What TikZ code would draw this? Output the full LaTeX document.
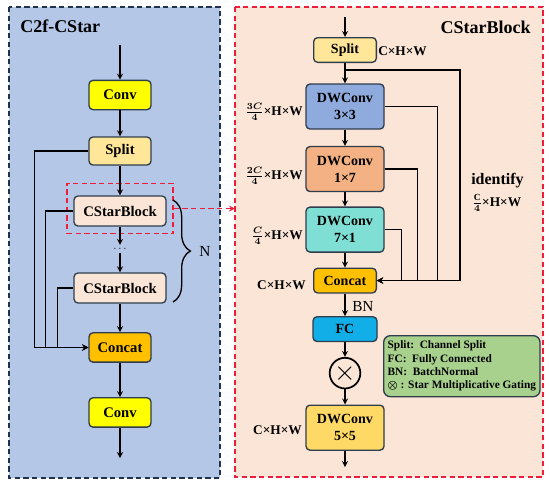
\documentclass[tikz,border=0pt]{standalone}
\usepackage{fontspec}
\setmainfont{Liberation Serif}
\usetikzlibrary{positioning,decorations.pathreplacing}

\definecolor{edgecol}{HTML}{2F3D4C}
\definecolor{leftbg}{HTML}{B4C7E7}
\definecolor{rightbg}{HTML}{FBE5D6}
\definecolor{navyline}{HTML}{1F3350}
\definecolor{redline}{HTML}{EE1D3A}
\definecolor{convcol}{HTML}{FFFF00}
\definecolor{splitcol}{HTML}{FFE699}
\definecolor{blockcol}{HTML}{FBE5D6}
\definecolor{concatcol}{HTML}{FFC000}
\definecolor{dwacol}{HTML}{8FAADC}
\definecolor{dwbcol}{HTML}{F4B183}
\definecolor{dwccol}{HTML}{7FDFD4}
\definecolor{fccol}{HTML}{12AEE8}
\definecolor{dwdcol}{HTML}{FFD966}
\definecolor{legendcol}{HTML}{A9D18E}

\begin{document}
\begin{tikzpicture}[
    x=0.75pt, y=-0.75pt,
    box/.style={rectangle, draw=edgecol, line width=1pt, rounded corners=3pt, align=center, inner sep=2pt, font=\fontsize{11}{13}\selectfont\bfseries},
    lbox/.style={box, minimum width=46.5pt, minimum height=22pt},
    wbox/.style={box, minimum width=69pt, minimum height=22.5pt},
    rbox/.style={box, minimum width=47pt, minimum height=18.5pt, font=\fontsize{10.5}{12.5}\selectfont\bfseries},
    dwbox/.style={box, minimum width=58.5pt, minimum height=33.75pt, font=\fontsize{10.5}{12.5}\selectfont\bfseries},
    dim/.style={inner sep=0pt, font=\fontsize{10}{12}\selectfont\bfseries},
    arrow/.style={line width=1pt,->,>=stealth},
    line/.style={line width=1pt}
]
\useasboundingbox (0,0) rectangle (550,486);

% panels
\draw[draw=navyline, fill=leftbg, line width=0.9pt, dash pattern=on 4pt off 2.5pt] (9,7) rectangle (220,478);
\draw[draw=redline, fill=rightbg, line width=0.9pt, dash pattern=on 4pt off 2.5pt] (235,7) rectangle (543,477);
\node (ltitle) [anchor=west, inner sep=0pt, font=\fontsize{13.5}{15}\selectfont\bfseries] at (20,26) {C2f-CStar};
\node (rtitle) [anchor=east, inner sep=0pt, font=\fontsize{13.5}{15}\selectfont\bfseries] at (531,27) {CStarBlock};

% C2f-CStar
\coordinate (lin) at (120,45);
\node (conv1) [lbox, fill=convcol] at (120,95) {Conv};
\node (split) [lbox, fill=splitcol, minimum height=21pt, node distance=42pt, below of=conv1] {Split};
\node (csb1) [wbox, fill=blockcol, node distance=45pt, below of=split] {CStarBlock};
\node (dots) [inner sep=1pt, font=\fontsize{8}{8}\selectfont, node distance=28.5pt, below of=csb1] {$\cdots$};
\node (csb2) [wbox, fill=blockcol, node distance=29.25pt, below of=dots] {CStarBlock};
\node (concat) [lbox, fill=concatcol, node distance=44.6pt, below of=csb2] {Concat};
\node (conv2) [lbox, fill=convcol, node distance=48.75pt, below of=concat] {Conv};
\coordinate (lout) at (120,458);
\node (grp) [draw=redline, line width=0.9pt, dash pattern=on 4pt off 2.5pt, minimum width=79.5pt, minimum height=38pt] at (120,208.5) {};

\draw [arrow] (lin) -- (conv1);
\draw [arrow] (conv1) -- (split);
\draw [arrow] (split) -- (csb1);
\draw [arrow] (csb1) -- (dots);
\draw [arrow] (dots) -- (csb2);
\draw [arrow] (csb2) -- (concat);
\draw [arrow] (concat) -- (conv2);
\draw [arrow] (conv2) -- (lout);
\draw [arrow] (split.west) -- ++(-54,0) |- (concat.west);
\draw [arrow] (csb1.west) -- ++(-28,0) |- (concat.west);
\draw [arrow] (csb2.west) -- ++(-16,0) |- (concat.west);

\draw [line, decorate, decoration={brace, amplitude=13pt}] (173,200) -- (173,302);
\node (n) [inner sep=0pt, font=\fontsize{11.5}{13}\selectfont] at (205,251) {N};

\coordinate (rin) at (235,208.5);
\draw [arrow, draw=redline, dash pattern=on 4pt off 2.5pt] (grp.east) -- (rin);

% CStarBlock
\coordinate (top) at (345,17);
\node (rsplit) [rbox, fill=splitcol] at (345,50) {Split};
\node (dwa) [dwbox, fill=dwacol, node distance=42.4pt, below of=rsplit] {DWConv\\3×3};
\node (dwb) [dwbox, fill=dwbcol, node distance=46.9pt, below of=dwa] {DWConv\\1×7};
\node (dwc) [dwbox, fill=dwccol, node distance=45.4pt, below of=dwb] {DWConv\\7×1};
\node (rconcat) [rbox, fill=concatcol, node distance=38.25pt, below of=dwc] {Concat};
\node (fc) [rbox, fill=fccol, minimum width=48pt, node distance=36.4pt, below of=rconcat] {FC};
\node (mul) [circle, draw=black, line width=1.3pt, minimum size=23pt, inner sep=0pt, node distance=33pt, below of=fc] {\fontsize{20}{20}\selectfont$\times$};
\node (dwd) [dwbox, fill=dwdcol, node distance=40.9pt, below of=mul] {DWConv\\5×5};
\coordinate (bottom) at (345,467);
\coordinate (br) at (345,70);

\draw [arrow] (top) -- (rsplit);
\draw [arrow] (rsplit) -- (dwa);
\draw [arrow] (dwa) -- (dwb);
\draw [arrow] (dwb) -- (dwc);
\draw [arrow] (dwc) -- (rconcat);
\draw [arrow] (rconcat) -- (fc);
\draw [arrow] (fc) -- (mul);
\draw [arrow] (mul) -- (dwd);
\draw [arrow] (dwd) -- (bottom);
\draw [arrow] (br) -- ++(115,0) |- (rconcat.east);
\draw [arrow] (dwa.east) -- ++(53,0) |- (rconcat.east);
\draw [arrow] (dwb.east) -- ++(33,0) |- (rconcat.east);
\draw [arrow] (dwc.east) -- ++(17,0) |- (rconcat.east);

\node (dsplit) [dim, anchor=west] at (378,51) {C×H×W};
\node (dima) [dim, anchor=east] at (303,112) {{\boldmath$\frac{3C}{4}$}×H×W};
\node (dimb) [dim, anchor=east] at (303,176) {{\boldmath$\frac{2C}{4}$}×H×W};
\node (dimc) [dim, anchor=east] at (303,236) {{\boldmath$\frac{C}{4}$}×H×W};
\node (dimd) [dim, anchor=east] at (306,285) {C×H×W};
\node (dime) [dim, anchor=east] at (302,430) {C×H×W};
\node (bn) [anchor=west, inner sep=0pt, font=\fontsize{11.5}{13}\selectfont] at (352,306) {BN};
\node (ident) [anchor=west, inner sep=0pt, font=\fontsize{12}{14}\selectfont\bfseries] at (471,181) {identify};
\node (dimf) [dim, anchor=west] at (472,203) {{\boldmath$\frac{\mathrm{C}}{4}$}×H×W};

\node (legend) [rectangle, draw=edgecol, fill=legendcol, line width=1pt, rounded corners=5pt, anchor=north west, align=left, inner sep=3pt, minimum width=115.5pt, minimum height=45.75pt, font=\fontsize{8.5}{10}\selectfont\bfseries] at (383,335) {Split:~~Channel Split\\FC:~~Fully Connected\\BN:~~BatchNormal\\{\boldmath$\otimes$}~: Star Multiplicative Gating};

\end{tikzpicture}
\end{document}
